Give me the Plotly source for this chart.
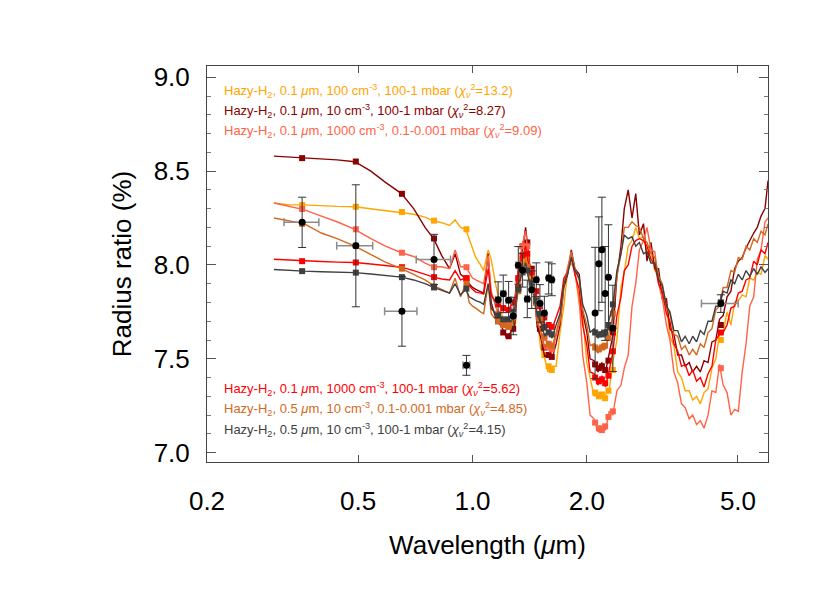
import plotly.graph_objects as go

# model wavelength grid (micron)
MODEL_WL = [0.30, 0.33, 0.36, 0.40, 0.44, 0.49, 0.54, 0.59, 0.65, 0.70, 0.75, 0.79, 0.83, 0.87, 0.90, 0.93, 0.96, 0.98,
            1.00, 1.02, 1.05, 1.07, 1.10, 1.12, 1.15, 1.18,
            1.20, 1.23, 1.26, 1.29, 1.32, 1.35, 1.38, 1.41, 1.45, 1.48, 1.51, 1.55, 1.58, 1.62, 1.66, 1.70,
            1.74, 1.78, 1.82, 1.86, 1.91, 1.95, 2.00, 2.04, 2.09, 2.14, 2.19, 2.24, 2.29, 2.34, 2.40, 2.46,
            2.51, 2.57, 2.63, 2.69, 2.75, 2.82, 2.88, 2.95, 3.02, 3.09, 3.16, 3.24, 3.31, 3.39, 3.47,
            3.55, 3.63, 3.72, 3.80, 3.89, 3.98, 4.07, 4.17, 4.27, 4.37, 4.47, 4.57, 4.68,
            4.79, 4.90, 5.01, 5.13, 5.25, 5.37, 5.50, 5.62, 5.75, 5.89, 6.00]

orange_100 = [8.33, 8.32, 8.32, 8.315, 8.312, 8.31, 8.30, 8.29, 8.28, 8.27, 8.255, 8.235, 8.225, 8.21, 8.24, 8.20, 8.19, 8.14,
              8.09, 8.04, 8.00, 7.97, 8.08, 8.03, 7.90, 7.78,
              7.72, 7.69, 7.65, 7.74, 7.86, 8.04, 8.02, 7.99, 7.83, 7.74, 7.56, 7.50, 7.43, 7.46, 7.46, 7.64,
              7.78, 7.97, 8.01, 7.97, 7.79, 7.72, 7.48, 7.40, 7.30, 7.32, 7.29, 7.31, 7.33, 7.48, 7.60, 7.88,
              7.96, 8.10, 8.13, 8.20, 8.14, 8.15, 8.07, 8.07, 7.97, 7.95, 7.82, 7.78, 7.62, 7.57, 7.43,
              7.40, 7.33, 7.33, 7.28, 7.30, 7.26, 7.32, 7.34, 7.45, 7.50, 7.63, 7.64, 7.75,
              7.68, 7.80, 7.81, 7.84, 7.83, 7.93, 7.92, 7.96, 7.95, 8.05, 8.03]

darkred_10 = [8.58, 8.575, 8.57, 8.565, 8.56, 8.55, 8.50, 8.44, 8.38, 8.30, 8.20, 8.14, 8.05, 7.98, 8.06, 7.95, 7.93, 7.90,
              7.88, 7.87, 7.86, 7.85, 8.06, 7.80, 7.72, 7.68,
              7.66, 7.61, 7.64, 7.66, 7.93, 8.07, 8.20, 8.02, 7.88, 7.67, 7.62, 7.51, 7.53, 7.50, 7.58, 7.68,
              7.88, 7.95, 8.08, 7.98, 7.95, 7.75, 7.64, 7.50, 7.49, 7.43, 7.48, 7.43, 7.52, 7.62, 7.94, 8.10,
              8.30, 8.40, 8.25, 8.38, 8.16, 8.22, 8.02, 8.12, 7.98, 7.98, 7.82, 7.82, 7.66, 7.63, 7.52,
              7.52, 7.46, 7.48, 7.43, 7.46, 7.43, 7.49, 7.48, 7.59, 7.60, 7.71, 7.73, 7.83,
              7.86, 7.98, 8.02, 8.04, 8.09, 8.13, 8.17, 8.20, 8.26, 8.30, 8.45]

salmon_1000_hi = [8.33, 8.31, 8.295, 8.26, 8.23, 8.19, 8.14, 8.10, 8.065, 8.045, 8.01, 7.99, 7.99, 7.98, 8.08, 7.99, 7.99, 7.96,
                  7.93, 7.92, 7.91, 7.90, 8.05, 7.86, 7.78, 7.72,
                  7.71, 7.66, 7.71, 7.73, 7.98, 8.10, 8.18, 8.00, 7.88, 7.70, 7.65, 7.55, 7.57, 7.54, 7.62, 7.70,
                  7.90, 7.98, 8.07, 7.96, 7.82, 7.52, 7.37, 7.20, 7.18, 7.11, 7.14, 7.12, 7.22, 7.20, 7.33, 7.36,
                  7.45, 7.52, 7.78, 7.90, 8.08, 8.13, 8.20, 8.08, 8.07, 7.90, 7.82, 7.68, 7.60, 7.43, 7.37,
                  7.26, 7.24, 7.18, 7.20, 7.15, 7.17, 7.13, 7.20, 7.33, 7.32, 7.47, 7.36, 7.32,
                  7.20, 7.23, 7.22, 7.43, 7.58, 7.78, 7.83, 8.03, 8.08, 8.23, 8.25]

red_1000 = [8.03, 8.025, 8.02, 8.018, 8.015, 8.013, 8.005, 7.995, 7.988, 7.97, 7.95, 7.935, 7.925, 7.92, 7.97, 7.92, 7.93, 7.89,
            7.87, 7.855, 7.85, 7.845, 7.98, 7.84, 7.80, 7.78,
            7.78, 7.75, 7.78, 7.81, 7.97, 8.04, 8.10, 7.98, 7.90, 7.78, 7.76, 7.67, 7.69, 7.66, 7.72, 7.78,
            7.93, 7.96, 8.04, 7.95, 7.87, 7.68, 7.57, 7.43, 7.42, 7.36, 7.41, 7.35, 7.44, 7.53, 7.73, 7.83,
            7.97, 8.00, 8.10, 8.13, 8.14, 8.13, 8.10, 8.03, 8.00, 7.90, 7.86, 7.74, 7.70, 7.58, 7.54,
            7.46, 7.47, 7.41, 7.44, 7.38, 7.40, 7.35, 7.42, 7.46, 7.60, 7.63, 7.64, 7.68,
            7.77, 7.78, 7.85, 7.86, 7.92, 7.93, 8.02, 8.00, 8.08, 8.06, 8.12]

brown_05_hi = [8.25, 8.235, 8.22, 8.17, 8.14, 8.10, 8.055, 8.015, 7.98, 7.95, 7.92, 7.89, 7.87, 7.85, 7.93, 7.83, 7.90, 7.80,
               7.78, 7.77, 7.75, 7.74, 7.90, 7.74, 7.71, 7.69,
               7.69, 7.66, 7.69, 7.73, 7.90, 7.96, 8.03, 7.92, 7.84, 7.70, 7.65, 7.56, 7.59, 7.56, 7.64, 7.72,
               7.90, 7.96, 8.06, 7.98, 7.92, 7.76, 7.68, 7.57, 7.58, 7.53, 7.58, 7.55, 7.64, 7.73, 7.94, 8.06,
               8.20, 8.20, 8.23, 8.21, 8.20, 8.14, 8.12, 8.06, 8.04, 7.94, 7.90, 7.78, 7.74, 7.63, 7.62,
               7.55, 7.57, 7.52, 7.55, 7.52, 7.58, 7.56, 7.64, 7.66, 7.76, 7.78, 7.88, 7.88,
               7.97, 7.96, 8.04, 8.03, 8.10, 8.08, 8.14, 8.12, 8.18, 8.16, 8.22]

gray_05 = [7.976, 7.97, 7.967, 7.964, 7.962, 7.959, 7.952, 7.945, 7.935, 7.92, 7.90, 7.88, 7.865, 7.85, 7.90, 7.84, 7.87, 7.83,
           7.82, 7.81, 7.80, 7.79, 7.90, 7.77, 7.74, 7.72,
           7.72, 7.70, 7.73, 7.76, 7.90, 7.95, 8.01, 7.91, 7.85, 7.73, 7.70, 7.62, 7.65, 7.61, 7.68, 7.74,
           7.90, 7.95, 8.04, 7.97, 7.93, 7.79, 7.73, 7.64, 7.66, 7.61, 7.65, 7.62, 7.71, 7.78, 7.97, 8.06,
           8.16, 8.14, 8.15, 8.10, 8.12, 8.06, 8.07, 8.01, 8.01, 7.92, 7.89, 7.78, 7.75, 7.65, 7.65,
           7.59, 7.62, 7.58, 7.62, 7.59, 7.65, 7.63, 7.70, 7.70, 7.78, 7.78, 7.86, 7.85,
           7.92, 7.90, 7.95, 7.92, 7.97, 7.94, 7.98, 7.95, 7.99, 7.96, 7.98]

# binned model values
BIN_WL = [0.356, 0.493, 0.652, 0.792, 0.964,
          1.168, 1.205, 1.245, 1.280, 1.320, 1.355, 1.394, 1.432, 1.472, 1.505, 1.546, 1.587, 1.617,
          2.103, 2.151, 2.191, 2.235, 2.280, 2.342, 4.506]
orange_bins = [8.319, 8.310, 8.282, 8.236, 8.19,
               7.80, 7.70, 7.67, 7.70, 7.88, 8.02, 8.03, 7.93, 7.80, 7.66, 7.52, 7.46, 7.44,
               7.32, 7.30, 7.31, 7.29, 7.33, 7.44, 7.60]
darkred_bins = [8.569, 8.551, 8.379, 8.141, 7.927,
                7.70, 7.64, 7.62, 7.66, 7.88, 8.10, 8.12, 7.98, 7.80, 7.66, 7.56, 7.52, 7.51,
                7.47, 7.45, 7.46, 7.44, 7.49, 7.64, 7.68]
salmon_bins = [8.298, 8.19, 8.065, 7.988, 7.988,
               7.74, 7.69, 7.68, 7.73, 7.92, 8.10, 8.10, 7.96, 7.82, 7.70, 7.61, 7.56, 7.55,
               7.16, 7.13, 7.12, 7.14, 7.19, 7.22, 7.45]
red_bins = [8.02, 8.013, 7.988, 7.935, 7.93,
            7.79, 7.77, 7.76, 7.80, 7.93, 8.05, 8.06, 7.96, 7.86, 7.78, 7.72, 7.68, 7.67,
            7.40, 7.38, 7.39, 7.37, 7.41, 7.54, 7.64]
brown_bins = [8.219, 8.103, 7.98, 7.886, 7.90,
              7.70, 7.68, 7.67, 7.72, 7.86, 7.97, 7.99, 7.91, 7.80, 7.71, 7.62, 7.58, 7.57,
              7.56, 7.55, 7.56, 7.57, 7.61, 7.74, 7.80]
gray_bins = [7.967, 7.959, 7.935, 7.88, 7.874,
             7.73, 7.71, 7.71, 7.75, 7.87, 7.96, 7.97, 7.90, 7.81, 7.74, 7.67, 7.64, 7.63,
             7.64, 7.63, 7.63, 7.64, 7.68, 7.79, 7.80]

# observed radius ratios
OBS_WL = [0.356, 0.493, 0.652, 0.792, 0.964,
          1.168, 1.205, 1.245, 1.280, 1.320, 1.355, 1.394, 1.432, 1.472, 1.505, 1.546, 1.587, 1.617,
          2.103, 2.151, 2.191, 2.235, 2.280, 2.342, 4.506]
OBS_RR = [8.227, 8.102, 7.753, 8.029, 7.465,
          7.815, 7.846, 7.812, 7.728, 7.998, 7.972, 7.819, 7.868, 7.921, 7.795, 7.743, 7.930, 7.921,
          7.744, 8.006, 8.081, 7.848, 7.934, 7.662, 7.794]
OBS_ERR = [0.134, 0.325, 0.186, 0.134, 0.053,
           0.095, 0.10, 0.10, 0.10, 0.10, 0.09, 0.10, 0.10, 0.09, 0.10, 0.09, 0.085, 0.085,
           0.35, 0.25, 0.28, 0.25, 0.28, 0.23, 0.047]
OBS_WL_MINUS = [0.037, 0.054, 0.065, 0.081, 0.02,
                0.018, 0.018, 0.018, 0.018, 0.018, 0.018, 0.018, 0.018, 0.018, 0.018, 0.018, 0.018, 0.018,
                0.0, 0.0, 0.0, 0.0, 0.0, 0.0, 0.50]
OBS_WL_PLUS = [0.038, 0.053, 0.062, 0.083, 0.02,
               0.018, 0.018, 0.018, 0.018, 0.018, 0.018, 0.018, 0.018, 0.018, 0.018, 0.018, 0.018, 0.018,
               0.0, 0.0, 0.0, 0.0, 0.0, 0.0, 0.50]

CHI = "(<i>χ</i><sub><i>ν</i></sub><sup>2</sup>="
MODELS = [
    ("Hazy-H<sub>2</sub>, 0.1 <i>μ</i>m, 100 cm<sup>-3</sup>, 100-1 mbar " + CHI + "13.2)",
     "#FFA500", orange_100, orange_bins, 0.937),
    ("Hazy-H<sub>2</sub>, 0.1 <i>μ</i>m, 10 cm<sup>-3</sup>, 100-1 mbar " + CHI + "8.27)",
     "#8B0000", darkred_10, darkred_bins, 0.886),
    ("Hazy-H<sub>2</sub>, 0.1 <i>μ</i>m, 1000 cm<sup>-3</sup>, 0.1-0.001 mbar " + CHI + "9.09)",
     "#FF6347", salmon_1000_hi, salmon_bins, 0.836),
    ("Hazy-H<sub>2</sub>, 0.1 <i>μ</i>m, 1000 cm<sup>-3</sup>, 100-1 mbar " + CHI + "5.62)",
     "#FF0000", red_1000, red_bins, 0.184),
    ("Hazy-H<sub>2</sub>, 0.5 <i>μ</i>m, 10 cm<sup>-3</sup>, 0.1-0.001 mbar " + CHI + "4.85)",
     "#D2691E", brown_05_hi, brown_bins, 0.133),
    ("Hazy-H<sub>2</sub>, 0.5 <i>μ</i>m, 10 cm<sup>-3</sup>, 100-1 mbar " + CHI + "4.15)",
     "#404040", gray_05, gray_bins, 0.081),
]

fig = go.Figure()
annots = []
for label, color, vals, bins, ly in MODELS:
    fig.add_trace(go.Scatter(x=MODEL_WL, y=vals, mode="lines",
                             line=dict(color=color, width=1.4), showlegend=False))
    fig.add_trace(go.Scatter(x=BIN_WL, y=bins, mode="markers",
                             marker=dict(symbol="square", size=6, color=color), showlegend=False))
    annots.append(dict(text=label, x=0.027, y=ly, xref="paper", yref="paper",
                       xanchor="left", yanchor="middle", showarrow=False,
                       font=dict(size=13, color=color)))

fig.add_trace(go.Scatter(
    x=OBS_WL, y=OBS_RR, mode="markers",
    marker=dict(color="black", size=7),
    error_y=dict(type="data", array=OBS_ERR, color="#333333", thickness=1, width=4),
    error_x=dict(type="data", array=OBS_WL_PLUS, arrayminus=OBS_WL_MINUS,
                 color="#8c8c8c", thickness=1.5, width=4),
    showlegend=False))

font = "Liberation Sans, Arial, Helvetica, sans-serif"
fig.update_layout(
    width=830, height=593,
    margin=dict(l=199, r=70, t=58, b=139),
    paper_bgcolor="white", plot_bgcolor="white",
    font=dict(family=font, color="black"),
    annotations=annots,
    xaxis=dict(type="log", range=[-0.699, 0.778],
               tickvals=[0.2, 0.5, 1.0, 2.0, 5.0], ticktext=["0.2", "0.5", "1.0", "2.0", "5.0"],
               ticks="inside", ticklen=7, tickcolor="#555", showline=True, linecolor="#444",
               mirror="allticks", showgrid=False, zeroline=False,
               tickfont=dict(size=26), ticklabelstandoff=16,
               title=dict(text="Wavelength (<i>μ</i>m)", font=dict(size=26), standoff=20)),
    yaxis=dict(range=[6.95, 9.06], tickvals=[7.0, 7.5, 8.0, 8.5, 9.0],
               ticktext=["7.0", "7.5", "8.0", "8.5", "9.0"],
               ticks="inside", ticklen=9, tickcolor="#555", showline=True, linecolor="#444",
               mirror="allticks", showgrid=False, zeroline=False,
               minor=dict(dtick=0.1, ticks="inside", ticklen=4, tickcolor="#777"),
               tickfont=dict(size=26), ticklabelstandoff=11,
               title=dict(text="Radius ratio (%)", font=dict(size=26), standoff=14)),
)

fig.write_html("out.html")
